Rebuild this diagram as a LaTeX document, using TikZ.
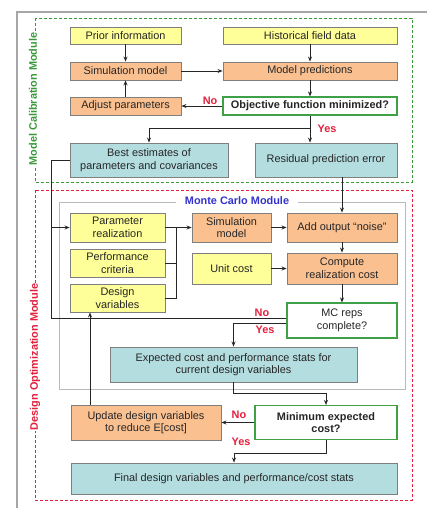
\documentclass[tikz,border=0pt]{standalone}
\usepackage{fontspec}
\setmainfont{Liberation Sans}
\usepackage{tikz}
\usetikzlibrary{arrows.meta,positioning,calc}
\definecolor{inyellow}{HTML}{FFFF99}
\definecolor{procorange}{HTML}{FAC090}
\definecolor{resteal}{HTML}{B4DDE0}
\definecolor{decgreen}{HTML}{3FA046}
\definecolor{calgreen}{HTML}{3A9A3A}
\definecolor{optred}{HTML}{E4203C}
\definecolor{mcblue}{HTML}{3333CC}
\definecolor{boxgray}{HTML}{7F7F7F}
\tikzset{
  fbox/.style={rectangle,draw=boxgray,line width=0.9pt,align=center,
    inner sep=2pt,font=\fontsize{10.9}{12.6}\selectfont,text=black!85},
  inbox/.style={fbox,fill=inyellow},
  procbox/.style={fbox,fill=procorange},
  resbox/.style={fbox,fill=resteal},
  decbox/.style={fbox,draw=decgreen,line width=1.2pt,fill=white},
  flowedge/.style={-{Stealth[length=5pt,width=4pt]},line width=0.8pt,color=black!85},
  flowline/.style={line width=0.8pt,color=black!85},
  yesno/.style={text=optred,font=\fontsize{10.9}{12}\selectfont\bfseries,inner sep=1pt},
  modframe/.style={dash pattern=on 3pt off 2pt,line width=0.9pt},
  modlabel/.style={fill=white,rotate=90,inner sep=1pt,
    font=\fontsize{10.9}{12}\selectfont\bfseries},
}

\begin{document}
\begin{tikzpicture}[x=1pt,y=-1pt]
  \fill[white] (0,0) rectangle (427,508);
  \useasboundingbox (0,0) rectangle (427,508);
  \draw[gray!70,line width=2pt] (17,508) -- (17,12) -- (427,12);

  % module frames
  \draw[modframe,calgreen] (35,18) rectangle (412,182);
  \draw[modframe,optred] (35,190) rectangle (412,500);
  \draw[gray!55,line width=0.6pt] (59,202) rectangle (405,389);
  \node[modlabel,text=calgreen] (calib) at (33,99) {Model Calibration Module};
  \node[modlabel,text=optred] (optim) at (35,357) {Design Optimization Module};
  \node[fill=white,inner xsep=9pt,inner ysep=1pt,text=mcblue,
    font=\fontsize{10.9}{12}\selectfont\bfseries] (mclbl) at (237,201) {Monte Carlo Module};

  % calibration
  \node[inbox,minimum width=111pt,minimum height=17pt] (prior) at (125.5,35.5) {Prior information};
  \node[inbox,minimum width=174pt,minimum height=17pt] (hist) at (310,35.5) {Historical field data};
  \node[procbox,minimum width=111pt,minimum height=18pt] (simA) at (125.5,71) {Simulation model};
  \node[procbox,minimum width=174pt,minimum height=18pt] (pred) at (310,71) {Model predictions};
  \node[procbox,minimum width=111pt,minimum height=18pt] (adjust) at (125.5,106) {Adjust parameters};
  \node[decbox,minimum width=174pt,minimum height=18pt,font=\fontsize{10.9}{12.6}\selectfont\bfseries] (objfn) at (310,106) {Objective function minimized?};
  \node[resbox,minimum width=158pt,minimum height=34pt] (best) at (149,160) {Best estimates of\\parameters and covariances};
  \node[resbox,minimum width=142pt,minimum height=34pt] (resid) at (326,160) {Residual prediction error};

  % monte carlo
  \node[inbox,minimum width=95pt,minimum height=29pt] (prealz) at (117.5,227.5) {Parameter\\realization};
  \node[inbox,minimum width=95pt,minimum height=28pt] (perf) at (117.5,263) {Performance\\criteria};
  \node[inbox,minimum width=95pt,minimum height=28pt] (dvars) at (117.5,298) {Design\\variables};
  \node[procbox,minimum width=79pt,minimum height=29pt] (simB) at (231.5,227.5) {Simulation\\model};
  \node[procbox,minimum width=110pt,minimum height=29pt] (noise) at (342,227.5) {Add output “noise”};
  \node[inbox,minimum width=79pt,minimum height=31pt] (ucost) at (231.5,268.5) {Unit cost};
  \node[procbox,minimum width=110pt,minimum height=31pt] (ccost) at (342,268.5) {Compute\\realization cost};
  \node[decbox,minimum width=110pt,minimum height=35pt] (mcreps) at (342,320.5) {MC reps\\complete?};
  \node[resbox,minimum width=247pt,minimum height=35pt] (expc) at (233.5,364.5) {Expected cost and performance stats for\\current design variables};

  % optimization
  \node[procbox,minimum width=150pt,minimum height=35pt] (update) at (146,422.5) {Update design variables\\to reduce E[cost]};
  \node[decbox,minimum width=142pt,minimum height=34pt,font=\fontsize{10.9}{12.6}\selectfont\bfseries] (minexp) at (326,422.5) {Minimum expected\\cost?};
  \node[resbox,minimum width=326pt,minimum height=31pt] (final) at (234,478.5) {Final design variables and performance/cost stats};

  \coordinate (loopx) at (51,0);
  \coordinate (joinx) at (176,0);
  \coordinate (upx) at (90,0);

  \draw[flowedge] (prior) -- (simA);
  \draw[flowedge] (hist) -- (pred);
  \draw[flowedge] (simA) -- (pred);
  \draw[flowedge] (pred) -- (objfn);
  \draw[flowedge] (objfn) -- node[yesno,above,pos=0.3]{No} (adjust);
  \draw[flowedge] (adjust) -- (simA);
  \draw[flowedge] (objfn.south) -- (objfn.south |- resid.north);
  \draw[flowedge] ([yshift=-13pt]objfn.south) -| (best.north);
  \node[yesno] (yesA) at (327,129) {Yes};
  \draw[flowedge] (best.west) -| (loopx |- prealz.west) -- (prealz.west);
  \draw[flowedge] (resid.south -| noise.north) -- (noise.north);

  \draw[flowedge] (prealz) -- (simB);
  \draw[flowline] (perf.east) -- (joinx |- perf.east);
  \draw[flowline] (dvars.east) -| (joinx |- prealz.east);
  \draw[flowedge] (simB) -- (noise);
  \draw[flowedge] (noise) -- (ccost);
  \draw[flowedge] (ucost) -- (ccost);
  \draw[flowedge] (ccost) -- (mcreps);
  \draw[flowline] ([yshift=2.5pt]mcreps.west) -| (loopx |- prealz.west);
  \node[yesno] (noB) at (262,313) {No};
  \draw[flowedge] ([yshift=-2.5pt]mcreps.west) -| (expc.north);
  \node[yesno] (yesB) at (265,329.5) {Yes};

  \draw[flowedge] (expc.south) -- ([yshift=-11pt]expc.south) -| (minexp.north);
  \draw[flowedge] (minexp.west) -- (minexp.west -| update.east);
  \node[yesno] (noC) at (239,415) {No};
  \draw[flowedge] (minexp.south) -- ([yshift=-13pt]minexp.south) -| (final.north);
  \node[yesno] (yesC) at (241,442) {Yes};
  \draw[flowedge] (upx |- update.north) -- (upx |- dvars.south);
\end{tikzpicture}
\end{document}
